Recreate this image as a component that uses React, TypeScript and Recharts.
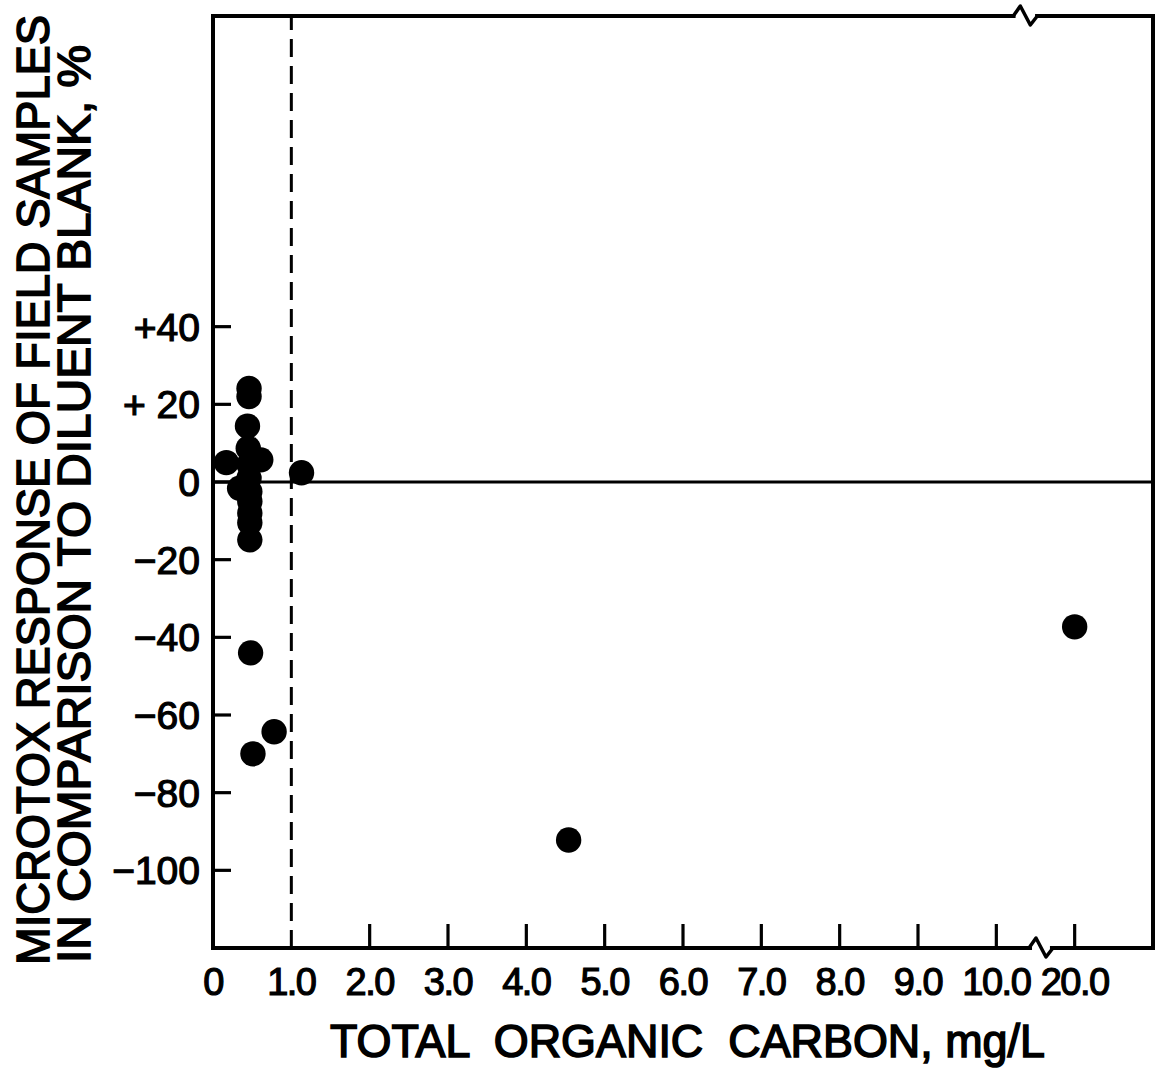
import { ScatterChart, Scatter, XAxis, YAxis, ReferenceLine, ReferenceDot } from "recharts"

// Total organic carbon (mg/L) and Microtox response (%) of each field sample
const tocValues = [0.46, 0.46, 0.44, 0.17, 0.45, 0.46, 0.61, 1.13, 0.34, 0.46, 0.47, 0.47, 0.47, 0.47, 0.47, 0.48, 0.78, 0.51, 4.54, 20.0]
const responses = [24.1, 22.0, 14.4, 5.0, 8.7, 4.5, 5.7, 2.4, -1.6, 1.0, -2.5, -5.0, -8.0, -10.5, -14.9, -44.0, -64.3, -70.0, -92.2, -37.3]

// x axis is broken after 10: positions 0..11, where 11 stands for 20.0
const xTickPositions = [0, 1, 2, 3, 4, 5, 6, 7, 8, 9, 10, 11]
const xTickLabels = ["0", "1.0", "2.0", "3.0", "4.0", "5.0", "6.0", "7.0", "8.0", "9.0", "10.0", "20.0"]
const yTicks = [40, 20, 0, -20, -40, -60, -80, -100]
const yTickLabels = ["+40", "+ 20", "0", "\u221220", "\u221240", "\u221260", "\u221280", "\u2212100"]

const BREAK_AT = 10.4
const toAxis = (v: number) => (v > BREAK_AT ? v - 9 : v)

const data = tocValues.map((toc, i) => ({ x: toAxis(toc), y: responses[i] }))

const FONT = "'Liberation Sans', Arial, Helvetica, sans-serif"
const INK = "#000"

const BottomTick = ({ x, y, payload }: any) => {
  const i = xTickPositions.indexOf(payload.value)
  return (
    <g>
      {payload.value > 1 && <line x1={x} y1={y} x2={x} y2={y - 24} stroke={INK} strokeWidth={3.2} />}
      <text x={x} y={y + 47} textAnchor="middle" fontSize={38} fontFamily={FONT} fill={INK} stroke={INK} strokeWidth={1.2} letterSpacing={-1.5}>
        {xTickLabels[i]}
      </text>
    </g>
  )
}

const TopTick = ({ x, y, payload }: any) =>
  payload.value > 1 ? <line x1={x} y1={y} x2={x} y2={y + 24} stroke={INK} strokeWidth={3.2} /> : <g />

const LeftTick = ({ x, y, payload }: any) => {
  const i = yTicks.indexOf(payload.value)
  return (
    <g>
      <line x1={x} y1={y} x2={x + 18} y2={y} stroke={INK} strokeWidth={3.2} />
      <text x={x - 13} y={y + 14} textAnchor="end" fontSize={39} fontFamily={FONT} fill={INK} stroke={INK} strokeWidth={1.2}>
        {yTickLabels[i]}
      </text>
    </g>
  )
}

const RightTick = ({ x, y }: any) => <line x1={x} y1={y} x2={x - 18} y2={y} stroke={INK} strokeWidth={3.2} />

// zigzag marking the axis break, drawn over a gap in the frame
const Zigzag = ({ cx, cy }: any) => (
  <path
    d={`M${cx - 12},${cy} L${cx - 5},${cy - 10} L${cx + 5},${cy + 9} L${cx + 12},${cy}`}
    fill="none"
    stroke={INK}
    strokeWidth={3.5}
    strokeLinejoin="round"
  />
)

const Dot = ({ cx, cy }: any) => <circle cx={cx} cy={cy} r={12.7} fill={INK} />

const frame = { stroke: INK, strokeWidth: 4 }

export default function App() {
  return (
    <div style={{ position: "absolute", left: 0, top: 0, width: 1157, height: 1071, background: "#fff" }}>
      <ScatterChart width={1157} height={1071} margin={{ top: 16, right: 0, bottom: 0, left: 0 }}>
        <XAxis
          dataKey="x"
          type="number"
          domain={[0, 12]}
          ticks={xTickPositions}
          interval={0}
          height={123}
          axisLine={false}
          tickLine={false}
          tickSize={0}
          tickMargin={0}
          tick={<BottomTick />}
        />
        <XAxis
          xAxisId="top"
          orientation="top"
          type="number"
          domain={[0, 12]}
          ticks={xTickPositions}
          interval={0}
          height={0}
          axisLine={false}
          tickLine={false}
          tickSize={0}
          tickMargin={0}
          tick={<TopTick />}
        />
        <YAxis
          dataKey="y"
          type="number"
          domain={[-120, 120]}
          ticks={yTicks}
          interval={0}
          width={213}
          axisLine={{ ...frame, strokeLinecap: "square" }}
          tickLine={false}
          tickSize={0}
          tickMargin={0}
          tick={<LeftTick />}
        />
        <YAxis
          yAxisId="right"
          orientation="right"
          type="number"
          domain={[-120, 120]}
          ticks={yTicks}
          interval={0}
          width={4}
          axisLine={{ ...frame, strokeLinecap: "square" }}
          tickLine={false}
          tickSize={0}
          tickMargin={0}
          tick={<RightTick />}
        />

        {/* top and bottom frame, split where the axis breaks */}
        <ReferenceLine segment={[{ x: 0, y: 120 }, { x: 10.22, y: 120 }]} {...frame} strokeLinecap="square" />
        <ReferenceLine segment={[{ x: 10.52, y: 120 }, { x: 12, y: 120 }]} {...frame} strokeLinecap="square" />
        <ReferenceLine segment={[{ x: 0, y: -120 }, { x: 10.43, y: -120 }]} {...frame} strokeLinecap="square" />
        <ReferenceLine segment={[{ x: 10.71, y: -120 }, { x: 12, y: -120 }]} {...frame} strokeLinecap="square" />
        <ReferenceDot x={10.37} y={120} r={0} shape={<Zigzag />} />
        <ReferenceDot x={10.57} y={-120} r={0} shape={<Zigzag />} />

        <ReferenceLine y={0} stroke={INK} strokeWidth={3} />
        <ReferenceLine x={1} stroke={INK} strokeWidth={3} strokeDasharray="18 9" />

        <Scatter data={data} shape={<Dot />} isAnimationActive={false} />
      </ScatterChart>

      <svg width={1157} height={1071} style={{ position: "absolute", left: 0, top: 0, pointerEvents: "none" }}>
        <g fontFamily={FONT} fill={INK} stroke={INK} strokeWidth={1.6}>
          <text
            transform="translate(49,965) rotate(-90)"
            fontSize={46}
            textLength={950}
            lengthAdjust="spacingAndGlyphs"
          >
            MICROTOX RESPONSE OF FIELD SAMPLES
          </text>
          <text
            transform="translate(90,963) rotate(-90)"
            fontSize={46}
            textLength={918}
            lengthAdjust="spacingAndGlyphs"
          >
            IN COMPARISON TO DILUENT BLANK, %
          </text>
          <text x={330} y={1057} fontSize={47} textLength={715} lengthAdjust="spacingAndGlyphs" xmlSpace="preserve">
            TOTAL  ORGANIC  CARBON, mg/L
          </text>
        </g>
      </svg>
    </div>
  )
}
